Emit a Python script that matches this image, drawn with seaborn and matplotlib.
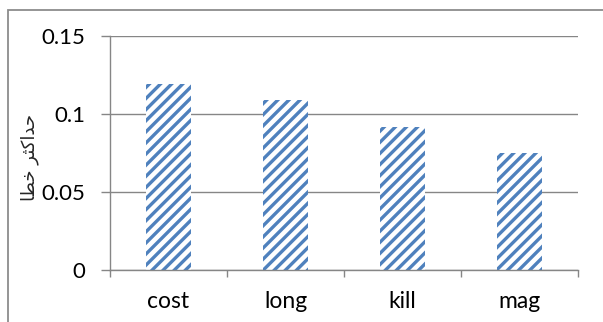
import matplotlib
matplotlib.use("Agg")
import matplotlib.pyplot as plt
from matplotlib.patches import Rectangle
import seaborn as sns

# Maximum error per method
categories = ["cost", "long", "kill", "mag"]
max_error = [0.119, 0.1088, 0.0919, 0.0748]
y_ticks = [0, 0.05, 0.1, 0.15]
y_tick_labels = ["0", "0.05", "0.1", "0.15"]
# "حداکثر خطا" written as shaped presentation forms in visual (left-to-right) order,
# since matplotlib does no Arabic shaping or bidi reordering itself
y_title = "\uFE8E\uFEC4\uFEA7 \uFEAE\uFE9C\uFB90\uFE8D\uFEAA\uFEA3"

BLUE = "#4f81bd"
GRAY = "#868686"

sns.set_theme(style="white")
plt.rcParams["font.family"] = ["Lato", "DejaVu Sans"]
plt.rcParams["hatch.linewidth"] = 2.4

fig = plt.figure(figsize=(6.03, 3.22), dpi=100)
ax = fig.add_axes([110 / 603, 1 - 270 / 322, 468 / 603, 234 / 322])

sns.barplot(x=categories, y=max_error, ax=ax, width=0.39, color=BLUE)
for bar in ax.patches:
    bar.set_facecolor("white")
    bar.set_edgecolor(BLUE)
    bar.set_hatch("///")
    bar.set_linewidth(0)

ax.set_ylim(0, 0.15)
ax.set_xlim(-0.5, len(categories) - 0.5)
ax.set_yticks(y_ticks)
ax.set_yticklabels(y_tick_labels)
ax.set_xticks(range(len(categories)))
ax.set_xticklabels(categories)
ax.set_xticks([i - 0.5 for i in range(len(categories) + 1)], minor=True)

ax.grid(axis="y", color=GRAY, linewidth=1.0)
ax.set_axisbelow(True)
for side in ("top", "right"):
    ax.spines[side].set_visible(False)
for side in ("left", "bottom"):
    ax.spines[side].set_color(GRAY)
    ax.spines[side].set_linewidth(1.0)

ax.tick_params(axis="y", which="major", left=True, length=6.5, width=1.0,
               color=GRAY, pad=11.5, labelsize=16, labelcolor="black")
ax.tick_params(axis="x", which="major", bottom=False, length=0, pad=15,
               labelsize=16.5, labelcolor="black")
ax.tick_params(axis="x", which="minor", bottom=True, length=5, width=1.0,
               color=GRAY)
ax.set_xlabel("")
ax.set_ylabel("")

fig.text(30 / 603, 1 - 157 / 322, y_title, rotation=90, ha="center", va="center",
         fontsize=13, family=["DejaVu Sans"])

# Chart-area border
fig.add_artist(Rectangle((8 / 603, -0.1), 1.2, 1 - 10 / 322 + 0.1,
                         transform=fig.transFigure, fill=False,
                         edgecolor="#8c8c8c", linewidth=1.3))

fig.savefig("out.png", dpi=100)
